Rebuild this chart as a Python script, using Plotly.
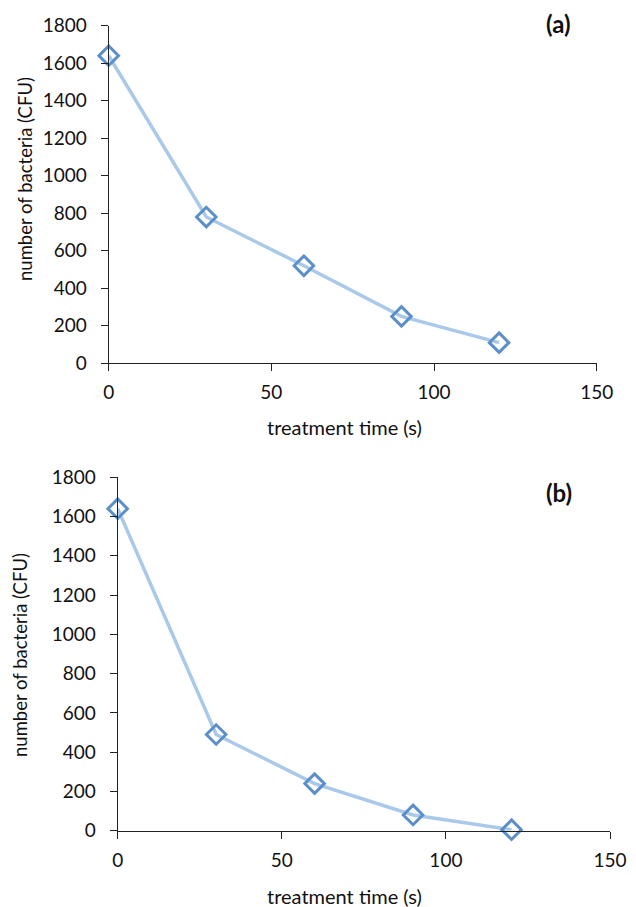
import plotly.graph_objects as go

time_s = [0, 30, 60, 90, 120]
bacteria_a = [1640, 780, 520, 250, 110]
bacteria_b = [1640, 490, 240, 80, 5]
x_ticks = [0, 50, 100, 150]
y_ticks = [0, 200, 400, 600, 800, 1000, 1200, 1400, 1600, 1800]

W, H = 636, 907
FONT = "Lato"
LINE_C = "#A9C9EA"
MARK_C = "#5A8FCB"

fig = go.Figure()
for ys, xa, ya in [(bacteria_a, "x", "y"), (bacteria_b, "x2", "y2")]:
    fig.add_trace(go.Scatter(
        x=time_s, y=ys, xaxis=xa, yaxis=ya, mode="lines+markers",
        line=dict(color=LINE_C, width=3.5),
        marker=dict(symbol="diamond-open", size=15, color=MARK_C, line=dict(width=3, color=MARK_C)),
        showlegend=False, cliponaxis=False))

def px_x(p):
    return p / W
def px_y(p):
    return 1 - p / H

TICKFONT = dict(family=FONT, size=19, color="#111")
axis_common = dict(showgrid=False, zeroline=False, showline=True, linecolor="#222", linewidth=1,
                   ticks="outside", tickcolor="#222", tickwidth=1, ticklen=7, automargin=False,
                   tickfont=TICKFONT)

fig.update_layout(
    template="none",
    width=W, height=H, margin=dict(l=0, r=0, t=0, b=0, pad=0),
    paper_bgcolor="white", plot_bgcolor="white",
    xaxis=dict(domain=[px_x(108.7), px_x(596.7)], range=[0, 150], tickvals=x_ticks,
               ticklabelstandoff=5, anchor="y", **axis_common),
    yaxis=dict(domain=[px_y(363.3), px_y(25.7)], range=[0, 1800], tickvals=y_ticks,
               ticklabelstandoff=10, anchor="x", **axis_common),
    xaxis2=dict(domain=[px_x(117.7), px_x(610)], range=[0, 150], tickvals=x_ticks,
                ticklabelstandoff=5, anchor="y2", **axis_common),
    yaxis2=dict(domain=[px_y(830.7), px_y(477.3)], range=[0, 1800], tickvals=y_ticks,
                ticklabelstandoff=10, anchor="x2", **axis_common),
)

ann = []
ytxt = dict(family=FONT, size=18.5, color="#111")
xtxt = dict(family=FONT, size=20, color="#111")
ann.append(dict(text="number of bacteria (CFU)", x=px_x(25), y=px_y(179), xref="paper", yref="paper",
                textangle=-90, showarrow=False, font=ytxt, xanchor="center", yanchor="middle"))
ann.append(dict(text="number of bacteria (CFU)", x=px_x(20), y=px_y(655), xref="paper", yref="paper",
                textangle=-90, showarrow=False, font=ytxt, xanchor="center", yanchor="middle"))
ann.append(dict(text="treatment time (s)", x=px_x(344), y=px_y(427), xref="paper", yref="paper",
                showarrow=False, font=xtxt, xanchor="center", yanchor="middle"))
ann.append(dict(text="treatment time (s)", x=px_x(344), y=px_y(896), xref="paper", yref="paper",
                showarrow=False, font=xtxt, xanchor="center", yanchor="middle"))
ann.append(dict(text="<b>(a)</b>", x=px_x(558), y=px_y(23), xref="paper", yref="paper",
                showarrow=False, font=dict(family=FONT, size=24, color="#111"), xanchor="center", yanchor="middle"))
ann.append(dict(text="<b>(b)</b>", x=px_x(559), y=px_y(493), xref="paper", yref="paper",
                showarrow=False, font=dict(family=FONT, size=24, color="#111"), xanchor="center", yanchor="middle"))
fig.update_layout(annotations=ann)

fig.write_html("out.html", config={"displayModeBar": False},
               post_script="document.body.style.margin='0';document.body.style.overflow='hidden';")
